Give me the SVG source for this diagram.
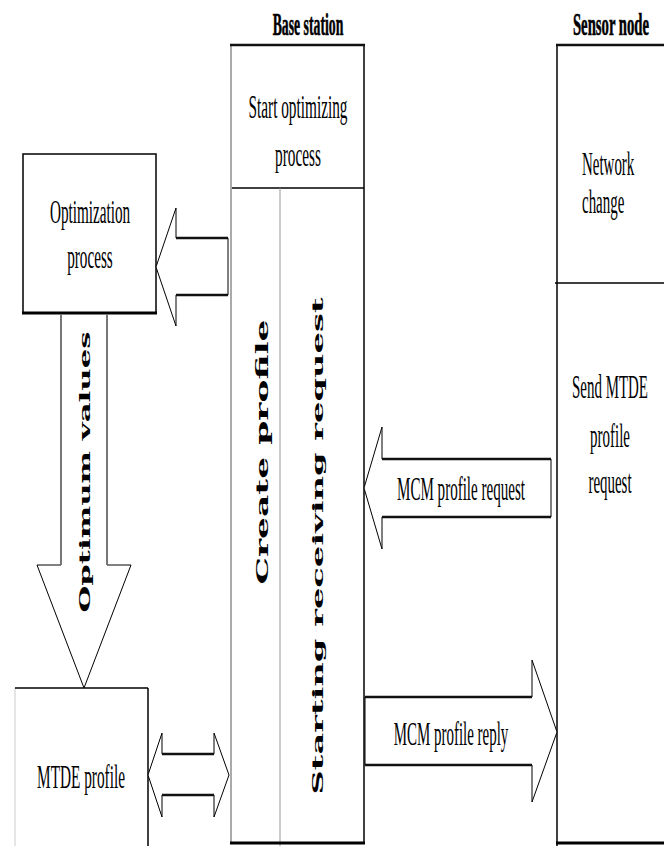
<svg xmlns="http://www.w3.org/2000/svg" width="664" height="846" viewBox="0 0 664 846">
<style>
.t{font-family:"Liberation Serif","Times New Roman",serif;font-size:34px;fill:#000;text-anchor:middle}
.tl{font-family:"Liberation Serif","Times New Roman",serif;font-size:34px;fill:#000}
.h{font-family:"Liberation Serif","Times New Roman",serif;font-size:32px;font-weight:bold;fill:#000;text-anchor:middle;stroke:#000;stroke-width:0.6}
.r{font-family:"DejaVu Serif",serif;font-weight:bold;fill:#000;text-anchor:middle}
.ln{stroke:#000;stroke-width:1.5;fill:none}
.gr{stroke:#aaa;stroke-width:2;fill:none}
.thin{stroke:#999;stroke-width:1;fill:none}
.thick{stroke:#000;stroke-width:3;fill:none}
.arr{fill:#fff;stroke:#000;stroke-width:1}
.edge{stroke:#111;stroke-width:2.5;fill:none}
</style>
<rect width="664" height="846" fill="#fff"/>

<g id="base-station">
  <text class="h" transform="translate(308,35) scale(0.43,1)">Base station</text>
  <line class="gr" x1="231" y1="45" x2="231" y2="843"/>
  <line class="ln" x1="364" y1="45" x2="364" y2="843"/>
  <line class="edge" x1="230" y1="45" x2="365" y2="45"/>
  <line class="ln" x1="232" y1="188" x2="364" y2="188"/>
  <line class="thin" x1="280" y1="188" x2="280" y2="846"/>
  <line class="thick" x1="230" y1="843" x2="365" y2="843"/>
</g>

<g id="start-optimizing">
  <text class="t" transform="translate(298,118) scale(0.45,1)">Start optimizing</text>
  <text class="t" transform="translate(298,166) scale(0.45,1)">process</text>
</g>

<g id="create-profile">
  <text class="r" font-size="17" transform="translate(268,452) rotate(-90)" textLength="265" lengthAdjust="spacingAndGlyphs">Create profile</text>
</g>

<g id="starting-receiving">
  <text class="r" font-size="15.5" transform="translate(323,546) rotate(-90)" textLength="497" lengthAdjust="spacingAndGlyphs">Starting receiving request</text>
</g>

<g id="sensor-node">
  <text class="h" transform="translate(611,35) scale(0.46,1)">Sensor node</text>
  <line class="ln" x1="557" y1="45" x2="557" y2="846"/>
  <line class="edge" x1="556" y1="45" x2="664" y2="45"/>
  <line class="ln" x1="555" y1="283" x2="664" y2="283"/>
  <line class="thick" x1="556" y1="843" x2="664" y2="843"/>
</g>

<g id="network-change">
  <text class="tl" transform="translate(582,175) scale(0.44,1)">Network</text>
  <text class="tl" transform="translate(582,213) scale(0.44,1)">change</text>
</g>

<g id="send-mtde">
  <text class="t" transform="translate(610,398) scale(0.44,1)">Send MTDE</text>
  <text class="t" transform="translate(610,447) scale(0.44,1)">profile</text>
  <text class="t" transform="translate(610,493) scale(0.44,1)">request</text>
</g>

<g id="optimization-process">
  <rect x="23" y="154" width="133" height="159" fill="#fff" stroke="#000" stroke-width="1.5"/>
  <line class="thick" x1="22" y1="313" x2="157" y2="313"/>
  <text class="t" transform="translate(90,223) scale(0.447,1)">Optimization</text>
  <text class="t" transform="translate(90,268) scale(0.447,1)">process</text>
</g>

<g id="mtde-profile">
  <line stroke="#ccc" stroke-width="1" x1="15" y1="688" x2="15" y2="846"/>
  <line class="ln" x1="15" y1="688" x2="148" y2="688"/>
  <line class="ln" x1="148" y1="688" x2="148" y2="846"/>
  <text class="t" transform="translate(81,788) scale(0.45,1)">MTDE profile</text>
</g>

<g id="connectors">
  <polygon class="arr" points="156,267 176,208 176,238 228,238 228,295 176,295 176,326"/>
  <line class="edge" x1="176" y1="238" x2="228" y2="238"/>
  <line class="edge" x1="176" y1="295" x2="228" y2="295"/>
  <polygon class="arr" points="61,314 107,314 107,565 131,565 84,688 37,565 61,565"/>
  <line stroke="#777" stroke-width="2" x1="61" y1="314" x2="61" y2="565"/>
  <line stroke="#777" stroke-width="2" x1="107" y1="314" x2="107" y2="565"/>
  <text class="r" font-size="15" transform="translate(90,472) rotate(-90)" textLength="281" lengthAdjust="spacingAndGlyphs">Optimum values</text>
  <polygon class="arr" points="364,488 382,427 382,459 551,459 551,517 382,517 382,549"/>
  <line class="edge" x1="382" y1="459" x2="551" y2="459"/>
  <line class="edge" x1="382" y1="517" x2="551" y2="517"/>
  <text class="t" transform="translate(461,500) scale(0.443,1)">MCM profile request</text>
  <polygon class="arr" points="365,697 532,697 532,660 557,732 532,802 532,765 365,765"/>
  <line class="edge" x1="365" y1="697" x2="532" y2="697"/>
  <line class="edge" x1="365" y1="765" x2="532" y2="765"/>
  <text class="t" transform="translate(451,745) scale(0.44,1)">MCM profile reply</text>
  <polygon class="arr" points="148,775 162,733 162,754 214,754 214,733 229,775 214,817 214,795 162,795 162,817"/>
  <line class="edge" x1="162" y1="754" x2="214" y2="754"/>
  <line class="edge" x1="162" y1="795" x2="214" y2="795"/>
</g>
</svg>
